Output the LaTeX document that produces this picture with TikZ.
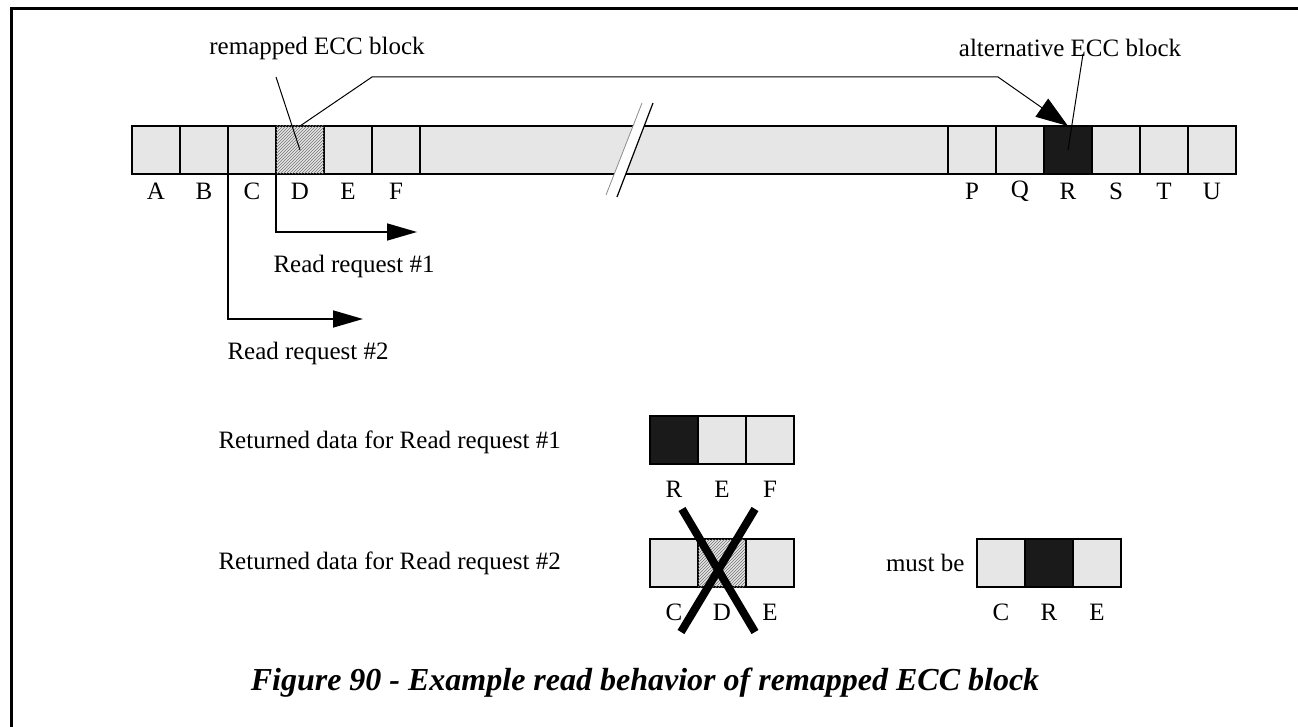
\documentclass[tikz,border=0pt]{standalone}
\usepackage{fontspec}
\setmainfont{Liberation Serif}
\usepackage{xcolor}
\usetikzlibrary{arrows.meta,positioning,patterns}
\definecolor{Cell}{HTML}{E6E6E6}
\definecolor{Alt}{HTML}{1A1A1A}

\begin{document}
\begin{tikzpicture}[x=1pt,y=-1pt,
  font=\fontsize{25}{29}\selectfont,
  cellbox/.style={draw,line width=1.6pt,fill=Cell,minimum width=48pt,minimum height=48pt,inner sep=0pt,outer sep=0pt},
  remapbox/.style={cellbox,postaction={pattern=north east lines,pattern color=black!55}},
  altbox/.style={cellbox,fill=Alt},
  cellname/.style={inner sep=0pt},
  callout/.style={line width=1pt},
  arr/.style={-{Triangle[length=30pt,width=17pt]},line width=1.6pt},
  bigarr/.style={-{Triangle[length=32pt,width=22pt]},line width=1pt}]
  \useasboundingbox (0,0) rectangle (1298,727);
  \draw[line width=3.5pt] (11.5,727) -- (11.5,8.5) -- (1298,8.5);
  % the disc: first blocks, the gap, last blocks
  \foreach \n [count=\i] in {A,B,C,D,E,F} {
    \node[cellbox] (\n) at ({108+48*\i},150) {};
    \node[cellname] at ({108+48*\i},191) {\n};
  }
  \node[remapbox] at (D) {};
  \node[cellbox,minimum width=528pt] (gap) at (684,150) {};
  \foreach \n [count=\i] in {P,Q,R,S,T,U} {
    \node[cellbox] (\n) at ({924+48*\i},150) {};
    \node[cellname] at ({924+48*\i},191) {\n};
  }
  \node[altbox] at (R) {};
  % break in the bar
  \fill[white] (606,195) -- (642,103) -- (653,103) -- (617,197) -- cycle;
  \draw[black!45,line width=0.8pt] (606,195) -- (642,103);
  \draw[line width=1.2pt] (617,197) -- (653,103);
  % callouts
  \node (remaplbl) at (317,48) {remapped ECC block};
  \node (altlbl) at (1070,48) {alternative ECC block};
  \coordinate (remaptop) at (276,77);
  \coordinate (alttop) at (1083,54);
  \draw[callout] (remaptop) -- (D.center);
  \draw[callout] (alttop) -- (R.center);
  \draw[bigarr] (D.north) -- (372,77) -- (998,77) -- (R.north);
  % read requests
  \coordinate (rr1) at (417,232);
  \coordinate (rr2) at (363,319);
  \draw[arr] (C.south east) |- (rr1);
  \draw[arr] (B.south east) |- (rr2);
  \node[anchor=west] (req1) at (270,266) {Read request \#1};
  \node[anchor=west] (req2) at (224,353) {Read request \#2};
  % returned data
  \node[anchor=west] (ret1) at (215,442) {Returned data for Read request \#1};
  \foreach \n/\f [count=\i] in {R/altbox,E/cellbox,F/cellbox} {
    \node[\f] (one\i) at ({626+48*\i},440) {};
    \node[cellname] at ({626+48*\i},489) {\n};
  }
  \node[anchor=west] (ret2) at (215,563) {Returned data for Read request \#2};
  \foreach \n/\f [count=\i] in {C/cellbox,D/remapbox,E/cellbox} {
    \node[\f] (two\i) at ({626+48*\i},563) {};
    \node[cellname] at ({626+48*\i},612) {\n};
  }
  \draw[line width=8pt] (682,509) -- (755,632);
  \draw[line width=8pt] (755,509) -- (681,632);
  \node[anchor=east] (must) at (968,563) {must be};
  \foreach \n/\f [count=\i] in {C/cellbox,R/altbox,E/cellbox} {
    \node[\f] (ok\i) at ({953+48*\i},563) {};
    \node[cellname] at ({953+48*\i},612) {\n};
  }
  \node[font=\fontsize{32}{36}\selectfont\bfseries\itshape] (caption) at (645,683) {Figure 90 - Example read behavior of remapped ECC block};
\end{tikzpicture}
\end{document}
